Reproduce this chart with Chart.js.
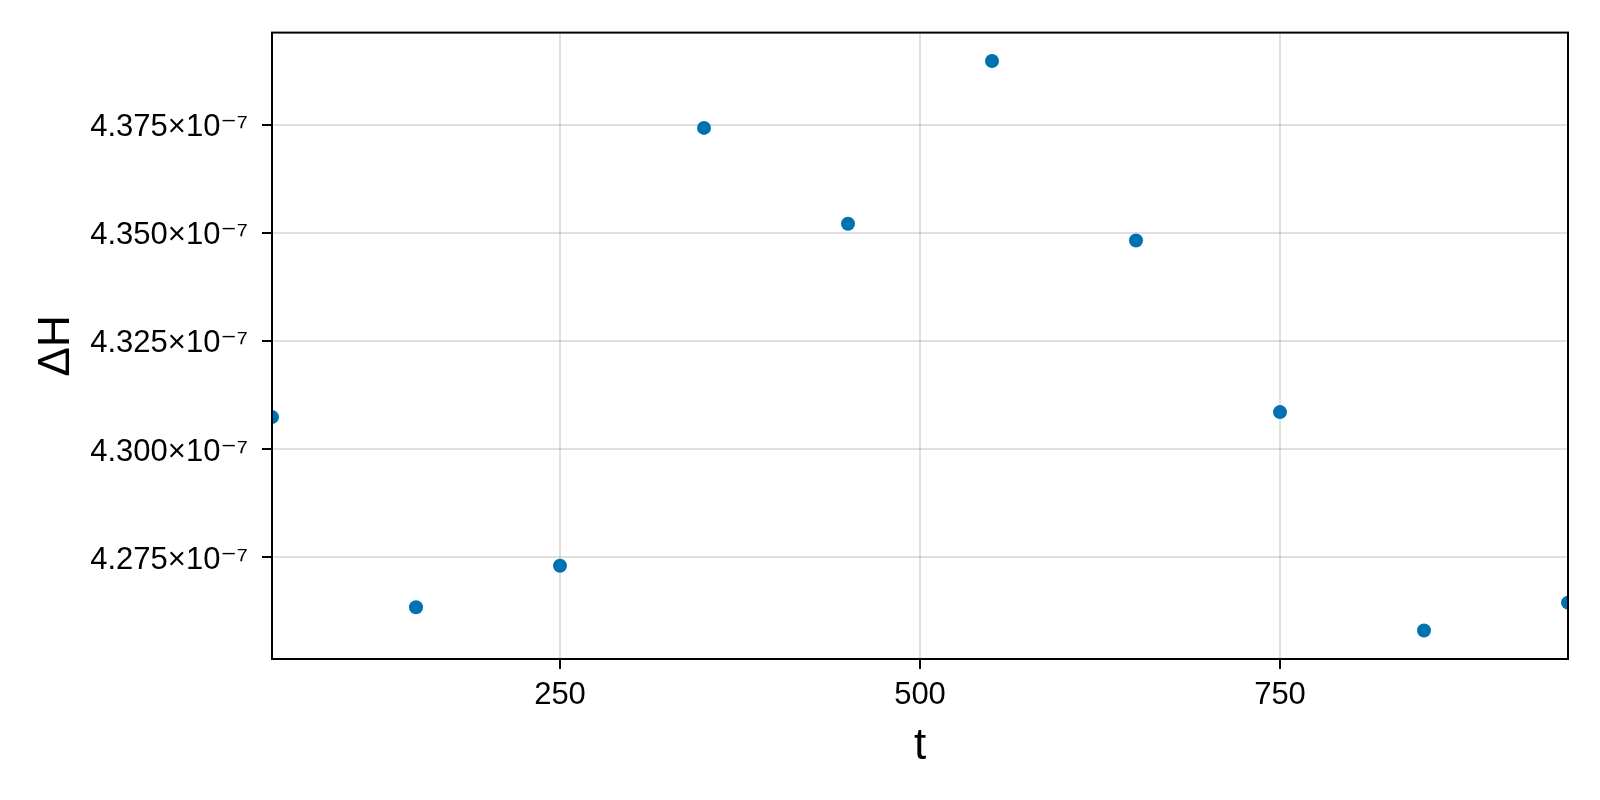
<!DOCTYPE html>
<html>
<head>
<meta charset="utf-8">
<script src="https://cdn.jsdelivr.net/npm/chart.js@4/dist/chart.umd.min.js"></script>
<style>
  html, body { margin: 0; padding: 0; background: #fff; }
  #wrap { width: 1600px; height: 800px; }
</style>
</head>
<body>
<div id="wrap"><canvas id="chart" width="1600" height="800"></canvas></div>
<script>
// values
const tValues = [50, 150, 250, 350, 450, 550, 650, 750, 850, 950];
const deltaH = [4.30738e-7, 4.26340e-7, 4.27302e-7, 4.37424e-7, 4.35208e-7,
                4.38969e-7, 4.34822e-7, 4.30853e-7, 4.25803e-7, 4.26448e-7];

const xTicks = [250, 500, 750];
const yTicks = [4.275e-7, 4.300e-7, 4.325e-7, 4.350e-7, 4.375e-7];
const yTickLabels = ['4.275×10⁻⁷', '4.300×10⁻⁷', '4.325×10⁻⁷', '4.350×10⁻⁷', '4.375×10⁻⁷'];

const FONT = "'Liberation Sans', 'DejaVu Sans', Arial, sans-serif";
const GRID = 'rgba(0,0,0,0.12)';

// Makie-style autolimits: 5% margin around the data in y, tight in x
const yLo = Math.min(...deltaH), yHi = Math.max(...deltaH);
const yPad = (yHi - yLo) * 0.05;

const points = tValues.map((t, i) => ({ x: t, y: deltaH[i] }));

const frame = {
    id: 'frame',
    afterDraw(chart) {
        const { ctx, chartArea: a } = chart;
        ctx.save();
        ctx.strokeStyle = '#000';
        ctx.lineWidth = 2;
        ctx.strokeRect(a.left, a.top, a.right - a.left, a.bottom - a.top);
        ctx.restore();
    }
};

new Chart(document.getElementById('chart'), {
    type: 'scatter',
    data: {
        datasets: [{
            data: points,
            backgroundColor: 'rgb(0,114,178)',
            borderWidth: 0,
            pointRadius: 7,
            pointHoverRadius: 7,
            clip: 0
        }]
    },
    options: {
        responsive: false,
        animation: false,
        events: [],
        layout: { padding: { left: 0, right: 32, top: 32, bottom: 0 } },
        plugins: { legend: { display: false }, tooltip: { enabled: false } },
        scales: {
            x: {
                type: 'linear',
                min: 50,
                max: 950,
                afterBuildTicks: s => { s.ticks = xTicks.map(v => ({ value: v })); },
                afterFit: s => { s.height = 141; },
                border: { display: false },
                grid: { color: GRID, lineWidth: 2, tickLength: 10, tickColor: '#000', tickWidth: 2 },
                ticks: {
                    color: '#000',
                    font: { family: FONT, size: 31 },
                    padding: 8,
                    maxRotation: 0,
                    autoSkip: false
                },
                title: {
                    display: true,
                    text: 't',
                    color: '#000',
                    font: { family: FONT, size: 44 },
                    padding: { top: 0, bottom: 27 }
                }
            },
            y: {
                type: 'linear',
                min: yLo - yPad,
                max: yHi + yPad,
                afterBuildTicks: s => { s.ticks = yTicks.map(v => ({ value: v })); },
                afterFit: s => { s.width = 272; },
                border: { display: false },
                grid: { color: GRID, lineWidth: 2, tickLength: 10, tickColor: '#000', tickWidth: 2 },
                ticks: {
                    color: '#000',
                    font: { family: FONT, size: 31 },
                    padding: 14,
                    labelOffset: 3,
                    autoSkip: false,
                    callback: (v, i) => yTickLabels[i]
                },
                title: {
                    display: true,
                    text: 'ΔH',
                    color: '#000',
                    font: { family: FONT, size: 44 },
                    padding: { top: 30, bottom: 0 }
                }
            }
        }
    },
    plugins: [frame]
});
</script>
</body>
</html>
